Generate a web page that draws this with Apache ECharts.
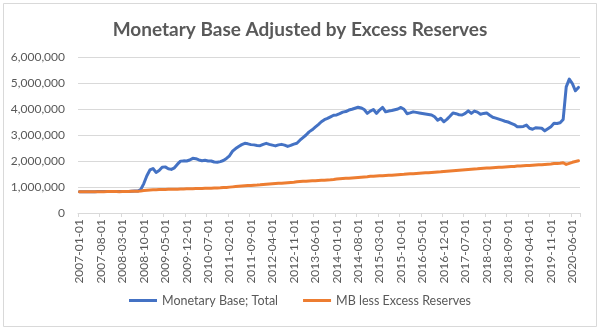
<!DOCTYPE html>
<html>
<head>
<meta charset="utf-8">
<script src="https://cdn.jsdelivr.net/npm/echarts@6/dist/echarts.min.js"></script>
<style>
html,body{margin:0;padding:0;background:#fff;}
#chart{width:600px;height:330px;}
</style>
</head>
<body>
<div id="chart"></div>
<script>
var categories = [
"2007-01-01","2007-02-01","2007-03-01","2007-04-01","2007-05-01","2007-06-01","2007-07-01","2007-08-01","2007-09-01","2007-10-01","2007-11-01","2007-12-01",
"2008-01-01","2008-02-01","2008-03-01","2008-04-01","2008-05-01","2008-06-01","2008-07-01","2008-08-01","2008-09-01","2008-10-01","2008-11-01","2008-12-01",
"2009-01-01","2009-02-01","2009-03-01","2009-04-01","2009-05-01","2009-06-01","2009-07-01","2009-08-01","2009-09-01","2009-10-01","2009-11-01","2009-12-01",
"2010-01-01","2010-02-01","2010-03-01","2010-04-01","2010-05-01","2010-06-01","2010-07-01","2010-08-01","2010-09-01","2010-10-01","2010-11-01","2010-12-01",
"2011-01-01","2011-02-01","2011-03-01","2011-04-01","2011-05-01","2011-06-01","2011-07-01","2011-08-01","2011-09-01","2011-10-01","2011-11-01","2011-12-01",
"2012-01-01","2012-02-01","2012-03-01","2012-04-01","2012-05-01","2012-06-01","2012-07-01","2012-08-01","2012-09-01","2012-10-01","2012-11-01","2012-12-01",
"2013-01-01","2013-02-01","2013-03-01","2013-04-01","2013-05-01","2013-06-01","2013-07-01","2013-08-01","2013-09-01","2013-10-01","2013-11-01","2013-12-01",
"2014-01-01","2014-02-01","2014-03-01","2014-04-01","2014-05-01","2014-06-01","2014-07-01","2014-08-01","2014-09-01","2014-10-01","2014-11-01","2014-12-01",
"2015-01-01","2015-02-01","2015-03-01","2015-04-01","2015-05-01","2015-06-01","2015-07-01","2015-08-01","2015-09-01","2015-10-01","2015-11-01","2015-12-01",
"2016-01-01","2016-02-01","2016-03-01","2016-04-01","2016-05-01","2016-06-01","2016-07-01","2016-08-01","2016-09-01","2016-10-01","2016-11-01","2016-12-01",
"2017-01-01","2017-02-01","2017-03-01","2017-04-01","2017-05-01","2017-06-01","2017-07-01","2017-08-01","2017-09-01","2017-10-01","2017-11-01","2017-12-01",
"2018-01-01","2018-02-01","2018-03-01","2018-04-01","2018-05-01","2018-06-01","2018-07-01","2018-08-01","2018-09-01","2018-10-01","2018-11-01","2018-12-01",
"2019-01-01","2019-02-01","2019-03-01","2019-04-01","2019-05-01","2019-06-01","2019-07-01","2019-08-01","2019-09-01","2019-10-01","2019-11-01","2019-12-01",
"2020-01-01","2020-02-01","2020-03-01","2020-04-01","2020-05-01","2020-06-01","2020-07-01","2020-08-01"
];

var monetaryBaseTotal = [
818000,815000,818000,822000,821000,822000,823000,823000,823000,825000,826000,825000,
826000,824000,826000,828000,831000,837000,842000,843000,905000,1132000,1432000,1656000,
1710000,1560000,1637000,1760000,1774000,1704000,1677000,1738000,1878000,1995000,2005000,2000000,
2040000,2103000,2089000,2040000,2012000,2028000,2000000,2000000,1960000,1950000,1977000,2020000,
2100000,2200000,2380000,2480000,2560000,2630000,2680000,2660000,2630000,2620000,2600000,2590000,
2640000,2680000,2640000,2610000,2580000,2620000,2640000,2610000,2560000,2600000,2650000,2680000,
2800000,2900000,3000000,3120000,3200000,3300000,3400000,3510000,3590000,3640000,3700000,3760000,
3770000,3820000,3880000,3900000,3960000,3990000,4030000,4070000,4040000,3980000,3830000,3920000,
3980000,3830000,3960000,4060000,3890000,3920000,3940000,3970000,4000000,4060000,3990000,3820000,
3850000,3890000,3870000,3850000,3830000,3810000,3790000,3770000,3700000,3570000,3640000,3510000,
3600000,3720000,3850000,3820000,3780000,3770000,3830000,3930000,3830000,3920000,3880000,3800000,
3830000,3850000,3760000,3680000,3650000,3610000,3570000,3530000,3500000,3450000,3400000,3320000,
3320000,3330000,3380000,3260000,3220000,3280000,3270000,3260000,3160000,3240000,3320000,3450000,
3440000,3470000,3600000,4850000,5150000,4980000,4700000,4830000
];

var mbLessExcessReserves = [
816000,813000,816000,820000,819000,820000,821000,821000,821000,823000,824000,823000,
824000,822000,824000,826000,829000,835000,840000,841000,850000,862000,875000,888000,
895000,898000,902000,906000,908000,910000,912000,915000,918000,921000,924000,928000,
932000,935000,938000,942000,945000,948000,952000,956000,960000,965000,970000,978000,
985000,995000,1005000,1015000,1025000,1035000,1045000,1055000,1062000,1068000,1075000,1085000,
1100000,1110000,1118000,1125000,1132000,1140000,1148000,1156000,1165000,1175000,1185000,1198000,
1210000,1218000,1225000,1232000,1238000,1245000,1252000,1258000,1264000,1270000,1278000,1290000,
1305000,1315000,1325000,1333000,1341000,1350000,1358000,1366000,1375000,1385000,1395000,1410000,
1418000,1424000,1430000,1436000,1442000,1448000,1455000,1462000,1470000,1478000,1486000,1498000,
1505000,1512000,1520000,1528000,1536000,1544000,1552000,1560000,1568000,1576000,1585000,1598000,
1608000,1618000,1628000,1638000,1648000,1658000,1666000,1674000,1682000,1690000,1700000,1715000,
1722000,1728000,1735000,1742000,1750000,1757000,1764000,1771000,1778000,1785000,1792000,1805000,
1812000,1818000,1824000,1830000,1838000,1845000,1852000,1860000,1868000,1876000,1885000,1900000,
1905000,1915000,1935000,1870000,1910000,1950000,1980000,2010000
];

var yTicks = [0, 1000000, 2000000, 3000000, 4000000, 5000000, 6000000];

var FONT = 'Lato';
var chart = echarts.init(document.getElementById('chart'), null, {renderer: 'canvas'});
chart.setOption({
  backgroundColor: '#ffffff',
  animation: false,
  title: {
    text: 'Monetary Base Adjusted by Excess Reserves',
    left: 'center',
    top: 15,
    textStyle: {fontFamily: FONT, fontSize: 19, fontWeight: 'bold', color: '#595959'}
  },
  graphic: [{
    type: 'rect',
    shape: {x: 3.5, y: 3.5, width: 593, height: 323},
    style: {fill: 'none', stroke: '#d9d9d9', lineWidth: 1},
    silent: true
  }],
  legend: {
    bottom: 18,
    left: 'center',
    icon: 'rect',
    itemWidth: 28,
    itemHeight: 3,
    itemGap: 25,
    textStyle: {fontFamily: FONT, fontSize: 12.5, color: '#595959'},
    data: ['Monetary Base; Total', 'MB less Excess Reserves']
  },
  grid: {left: 78, right: 20, top: 57, bottom: 117, containLabel: false},
  xAxis: {
    type: 'category',
    data: categories,
    boundaryGap: true,
    axisLine: {lineStyle: {color: '#d9d9d9', width: 1}},
    axisTick: {show: true, interval: 6, length: 4, lineStyle: {color: '#d9d9d9'}},
    axisLabel: {interval: 6, rotate: 90, margin: 6, fontFamily: FONT, fontSize: 12, color: '#595959'},
    splitLine: {show: false}
  },
  yAxis: {
    type: 'value',
    min: yTicks[0],
    max: yTicks[yTicks.length - 1],
    interval: yTicks[1] - yTicks[0],
    axisLine: {show: false},
    axisTick: {show: false},
    axisLabel: {
      margin: 13,
      fontFamily: FONT, fontSize: 12, color: '#595959',
      formatter: function (v) { return v.toLocaleString('en-US'); }
    },
    splitLine: {lineStyle: {color: '#d9d9d9', width: 1}}
  },
  series: [
    {
      name: 'Monetary Base; Total',
      type: 'line',
      data: monetaryBaseTotal,
      showSymbol: false,
      symbol: 'none',
      lineStyle: {color: '#4472C4', width: 3, join: 'round', cap: 'round'},
      itemStyle: {color: '#4472C4'}
    },
    {
      name: 'MB less Excess Reserves',
      type: 'line',
      data: mbLessExcessReserves,
      showSymbol: false,
      symbol: 'none',
      lineStyle: {color: '#ED7D31', width: 3, join: 'round', cap: 'round'},
      itemStyle: {color: '#ED7D31'}
    }
  ]
});
</script>
</body>
</html>
